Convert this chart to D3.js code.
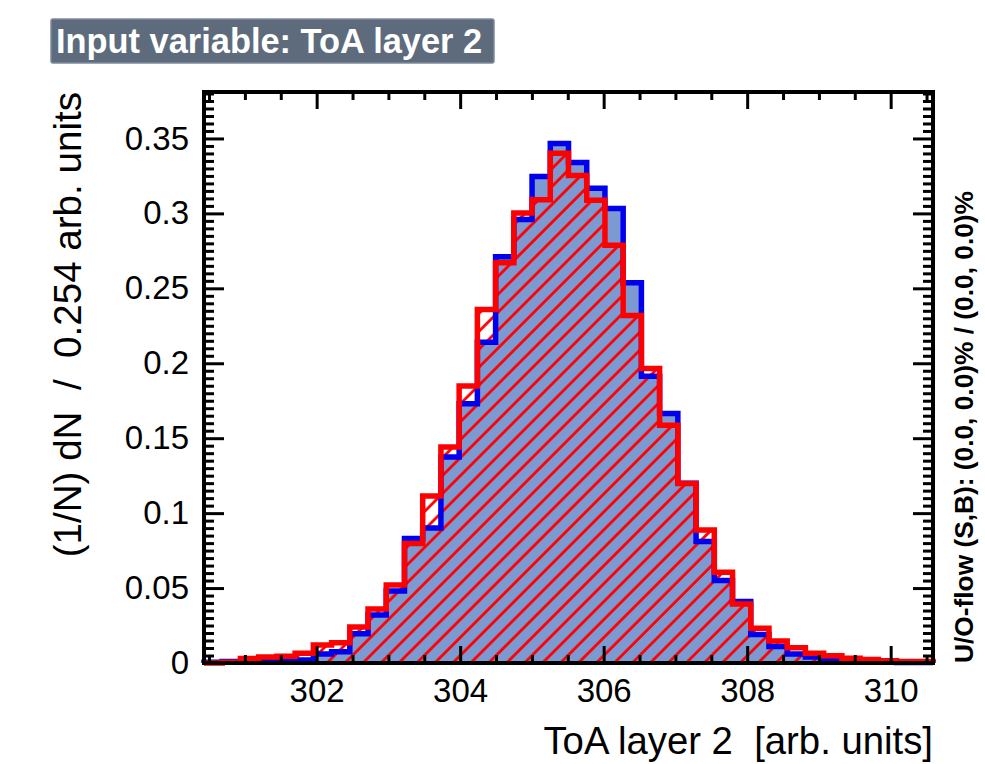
<!DOCTYPE html>
<html>
<head>
<meta charset="utf-8">
<script src="https://cdn.jsdelivr.net/npm/d3@7"></script>
<style>
  body { margin: 0; background: #ffffff; }
  text { font-family: "Liberation Sans", Arial, Helvetica, sans-serif; white-space: pre; }
</style>
</head>
<body>
<svg id="chart" width="985" height="764"></svg>
<script>
// Binning of the "ToA layer 2" input variable
const binLow = 300.43;
const binWidth = 0.254;

// Normalised distributions, (1/N) dN per bin
const signal = [
  0.0005, 0.001, 0.0005, 0.001, 0.001, 0.002, 0.006, 0.0075, 0.0195, 0.032,
  0.048, 0.083, 0.090, 0.1375, 0.173, 0.214, 0.271, 0.296, 0.3247, 0.3467,
  0.334, 0.3167, 0.3033, 0.2538, 0.1913, 0.1665, 0.120, 0.081, 0.055, 0.041,
  0.019, 0.011, 0.006, 0.004, 0.002, 0.001, 0.0005, 0.0005, 0.0003, 0.0003
];
const background = [
  0.0, 0.0005, 0.003, 0.004, 0.0045, 0.0065, 0.012, 0.0135, 0.024, 0.036,
  0.052, 0.0798, 0.1114, 0.1442, 0.1849, 0.2358, 0.267, 0.3002, 0.3091, 0.3402,
  0.3253, 0.3087, 0.2787, 0.2318, 0.1965, 0.1587, 0.1198, 0.0887, 0.0605, 0.0393,
  0.0232, 0.0147, 0.0102, 0.0065, 0.0048, 0.0031, 0.0024, 0.0015, 0.001, 0.001
];

const xTickValues = [302, 304, 306, 308, 310];
const xTickLabels = ["302", "304", "306", "308", "310"];
const yTickValues = [0, 0.05, 0.1, 0.15, 0.2, 0.25, 0.3, 0.35];
const yTickLabels = ["0", "0.05", "0.1", "0.15", "0.2", "0.25", "0.3", "0.35"];
const yMax = 0.381;

const titleText = "Input variable: ToA layer 2";
const xTitle = "ToA layer 2  [arb. units]";
const yTitle = "(1/N) dN  /  0.254 arb. units";
const flowText = "U/O-flow (S,B): (0.0, 0.0)% / (0.0, 0.0)%";

// Frame geometry
const frame = { left: 204, right: 933, top: 92, bottom: 663 };
const binHigh = binLow + binWidth * signal.length;

const svg = d3.select("#chart");

const x = d3.scaleLinear().domain([binLow, binHigh]).range([frame.left, frame.right]);
const y = d3.scaleLinear().domain([0, yMax]).range([frame.bottom, frame.top]);

// Hatch pattern for the background histogram
const defs = svg.append("defs");
defs.append("pattern")
  .attr("id", "bkgHatch")
  .attr("patternUnits", "userSpaceOnUse")
  .attr("width", 12.7)
  .attr("height", 12.7)
  .attr("patternTransform", "rotate(45)")
  .append("line")
  .attr("x1", 1.5).attr("y1", 0)
  .attr("x2", 1.5).attr("y2", 12.7)
  .attr("stroke", "#ff0000")
  .attr("stroke-width", 2.8);

// Step points: one per bin lower edge, plus closing edge
function stepPoints(values) {
  const pts = [[binLow, 0]];
  values.forEach((v, i) => pts.push([binLow + i * binWidth, v]));
  pts.push([binHigh, values[values.length - 1]]);
  pts.push([binHigh, 0]);
  return pts;
}

const stepLine = d3.line()
  .x(d => x(d[0]))
  .y(d => y(d[1]))
  .curve(d3.curveStepAfter);

const stepArea = d3.area()
  .x(d => x(d[0]))
  .y0(y(0))
  .y1(d => y(d[1]))
  .curve(d3.curveStepAfter);

const sigPts = stepPoints(signal);
const bkgPts = stepPoints(background);

const plot = svg.append("g");

plot.append("path")
  .attr("d", stepArea(sigPts))
  .attr("fill", "#7d99d1");

plot.append("path")
  .attr("d", stepArea(bkgPts))
  .attr("fill", "url(#bkgHatch)");

plot.append("path")
  .attr("d", stepLine(sigPts))
  .attr("fill", "none")
  .attr("stroke", "#0000ee")
  .attr("stroke-width", 5.5)
  .attr("stroke-linejoin", "miter");

plot.append("path")
  .attr("d", stepLine(bkgPts))
  .attr("fill", "none")
  .attr("stroke", "#ff0000")
  .attr("stroke-width", 5.5)
  .attr("stroke-linejoin", "miter");

// Axes with inward ticks on all four sides
const xMinor = d3.range(300.5, 310.6, 0.5).filter(v => Math.abs(v - Math.round(v / 2) * 2) > 1e-6);
const yMinor = d3.range(0, yMax, 0.005).filter(v => Math.abs(v / 0.05 - Math.round(v / 0.05)) > 1e-6);

function styleAxis(g) {
  g.select(".domain").remove();
  g.selectAll(".tick line").attr("stroke", "#000").attr("stroke-width", 3);
}

const xMajorLen = 17, xMinorLen = 8, yMajorLen = 20, yMinorLen = 10;
const tickFont = "'Liberation Sans', Arial, sans-serif";

svg.append("g")
  .attr("transform", `translate(0,${frame.bottom})`)
  .call(d3.axisBottom(x).tickValues(xTickValues)
    .tickFormat((d, i) => xTickLabels[i]).tickSize(-xMajorLen).tickPadding(16))
  .call(styleAxis)
  .call(g => g.selectAll(".tick text")
    .attr("font-size", 33).attr("fill", "#000").attr("font-family", tickFont));

svg.append("g")
  .attr("transform", `translate(0,${frame.bottom})`)
  .call(d3.axisBottom(x).tickValues(xMinor).tickFormat("").tickSize(-xMinorLen))
  .call(styleAxis);

svg.append("g")
  .attr("transform", `translate(0,${frame.top})`)
  .call(d3.axisTop(x).tickValues(xTickValues).tickFormat("").tickSize(-xMajorLen))
  .call(styleAxis);

svg.append("g")
  .attr("transform", `translate(0,${frame.top})`)
  .call(d3.axisTop(x).tickValues(xMinor).tickFormat("").tickSize(-xMinorLen))
  .call(styleAxis);

svg.append("g")
  .attr("transform", `translate(${frame.left},0)`)
  .call(d3.axisLeft(y).tickValues(yTickValues)
    .tickFormat((d, i) => yTickLabels[i]).tickSize(-yMajorLen).tickPadding(15))
  .call(styleAxis)
  .call(g => g.selectAll(".tick text")
    .attr("font-size", 33).attr("fill", "#000").attr("font-family", tickFont));

svg.append("g")
  .attr("transform", `translate(${frame.left},0)`)
  .call(d3.axisLeft(y).tickValues(yMinor).tickFormat("").tickSize(-yMinorLen))
  .call(styleAxis);

svg.append("g")
  .attr("transform", `translate(${frame.right},0)`)
  .call(d3.axisRight(y).tickValues(yTickValues).tickFormat("").tickSize(-yMajorLen))
  .call(styleAxis);

svg.append("g")
  .attr("transform", `translate(${frame.right},0)`)
  .call(d3.axisRight(y).tickValues(yMinor).tickFormat("").tickSize(-yMinorLen))
  .call(styleAxis);

// Frame
svg.append("rect")
  .attr("x", frame.left).attr("y", frame.top)
  .attr("width", frame.right - frame.left)
  .attr("height", frame.bottom - frame.top)
  .attr("fill", "none")
  .attr("stroke", "#000")
  .attr("stroke-width", 4);

// Axis titles
svg.append("text")
  .attr("x", frame.right).attr("y", 754)
  .attr("text-anchor", "end")
  .attr("font-size", 38.3)
  .attr("fill", "#000")
  .attr("xml:space", "preserve")
  .text(xTitle);

svg.append("text")
  .attr("transform", `translate(81,${frame.top}) rotate(-90)`)
  .attr("text-anchor", "end")
  .attr("font-size", 38.6)
  .attr("fill", "#000")
  .attr("xml:space", "preserve")
  .text(yTitle);

// Under/overflow note
svg.append("text")
  .attr("transform", `translate(973,${frame.bottom}) rotate(-90)`)
  .attr("text-anchor", "start")
  .attr("font-size", 26.3)
  .attr("font-weight", "bold")
  .attr("fill", "#000")
  .text(flowText);

// Title box
svg.append("rect")
  .attr("x", 51).attr("y", 19)
  .attr("width", 443).attr("height", 44)
  .attr("rx", 2)
  .attr("fill", "#5d6b7d")
  .attr("stroke", "#7d8b9d")
  .attr("stroke-width", 1.5);

svg.append("text")
  .attr("x", 56).attr("y", 53)
  .attr("font-size", 34.4)
  .attr("font-weight", "bold")
  .attr("fill", "#ffffff")
  .text(titleText);
</script>
</body>
</html>
